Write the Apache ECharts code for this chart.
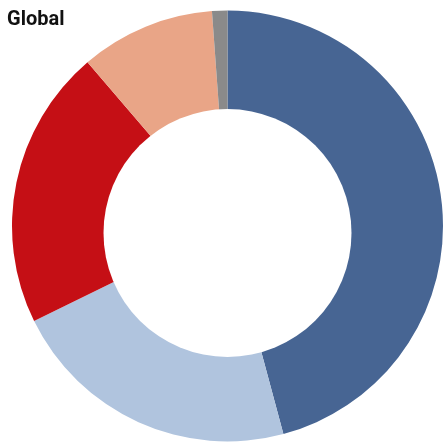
<!DOCTYPE html>
<html>
<head>
<meta charset="utf-8">
<script src="https://cdn.jsdelivr.net/npm/echarts@6/dist/echarts.min.js"></script>
<style>
  html, body { margin: 0; padding: 0; background: #fff; }
  #main { width: 443px; height: 442px; }
</style>
</head>
<body>
<div id="main"></div>
<script>
// slice names and shares (%), clockwise from 12 o'clock
var segments = ["Segment 1", "Segment 2", "Segment 3", "Segment 4", "Segment 5"];
var shares = [45.8, 21.9, 21.0, 10.1, 1.15];
var colors = ["#476593", "#b0c4de", "#c50f15", "#e9a587", "#8a8a8a"];

var chart = echarts.init(document.getElementById("main"));

var pieData = segments.map(function (name, i) {
  return { name: name, value: shares[i], itemStyle: { color: colors[i] } };
});

var option = {
  animation: false,
  title: {
    text: "Global",
    left: 2,
    top: 5,
    textStyle: { fontFamily: "Roboto", fontWeight: "bold", fontSize: 20, color: "#111" }
  },
  series: [
    {
      type: "pie",
      center: [227.5, 226],
      radius: [112, 215.5],
      startAngle: 90,
      clockwise: true,
      label: { show: false },
      labelLine: { show: false },
      silent: true,
      itemStyle: { borderWidth: 0 },
      data: pieData
    }
  ],
  // the hole in the reference sits a little below the ring's centre
  graphic: [
    {
      type: "circle",
      shape: { cx: 227.5, cy: 233, r: 124 },
      style: { fill: "#fff" },
      z: 100
    }
  ]
};

chart.setOption(option);
</script>
</body>
</html>
